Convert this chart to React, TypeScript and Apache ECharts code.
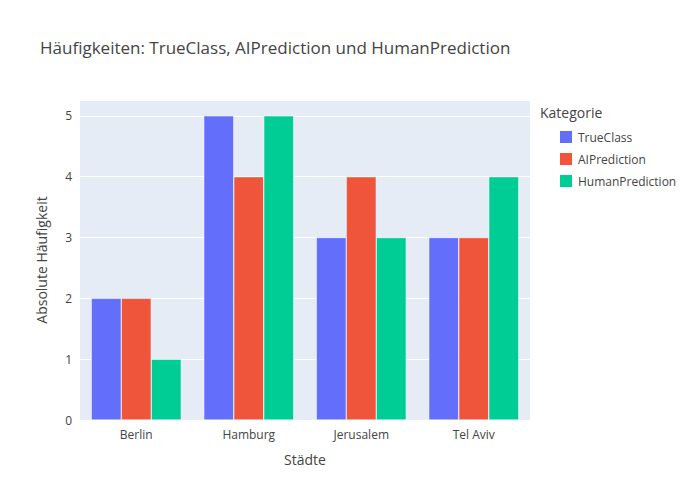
import { useEffect, useRef } from 'react';
import * as echarts from 'echarts';

const cities = ['Berlin', 'Hamburg', 'Jerusalem', 'Tel Aviv'];
const trueClass = [2, 5, 3, 3];
const aiPrediction = [2, 4, 4, 3];
const humanPrediction = [1, 5, 3, 4];

const font = '"Open Sans", sans-serif';

export default function App() {
  const chartRef = useRef<HTMLDivElement>(null);

  useEffect(() => {
    if (!chartRef.current) return;
    const chart = echarts.init(chartRef.current, null, { renderer: 'svg' });

    const bar = (name: string, data: number[], color: string) => ({
      name,
      type: 'bar',
      data,
      barGap: '0%',
      barCategoryGap: '20%',
      itemStyle: { color, borderColor: '#fff', borderWidth: 0.5 },
    });

    chart.setOption({
      animation: false,
      textStyle: { fontFamily: font, color: '#444' },
      title: {
        text: 'Häufigkeiten: TrueClass, AIPrediction und HumanPrediction',
        left: 35,
        top: 34,
        textStyle: { fontFamily: font, fontSize: 17, fontWeight: 'normal', color: '#444' },
      },
      graphic: [
        {
          type: 'text',
          left: 540,
          top: 105,
          style: { text: 'Kategorie', fontFamily: font, fontSize: 14, fill: '#444' },
        },
      ],
      legend: {
        orient: 'vertical',
        left: 553,
        top: 124,
        itemWidth: 14,
        itemHeight: 14,
        itemGap: 6,
        icon: 'rect',
        textStyle: { fontFamily: font, fontSize: 12, color: '#444' },
      },
      grid: {
        left: 80,
        right: 170,
        top: 100,
        bottom: 80,
        show: true,
        backgroundColor: '#E5ECF6',
        borderWidth: 0,
      },
      xAxis: {
        type: 'category',
        data: cities,
        name: 'Städte',
        nameLocation: 'middle',
        nameGap: 32,
        nameTextStyle: { fontFamily: font, fontSize: 14, color: '#444' },
        axisLine: { show: false },
        axisTick: { show: false },
        axisLabel: { fontFamily: font, fontSize: 12, color: '#444' },
      },
      yAxis: {
        type: 'value',
        min: 0,
        max: 5.26,
        interval: 1,
        name: 'Absolute Häufigkeit',
        nameLocation: 'middle',
        nameGap: 32,
        nameTextStyle: { fontFamily: font, fontSize: 14, color: '#444' },
        axisLabel: { fontFamily: font, fontSize: 12, color: '#444', showMaxLabel: false },
        splitLine: { lineStyle: { color: '#fff', width: 1 } },
      },
      series: [
        bar('TrueClass', trueClass, '#636efa'),
        bar('AIPrediction', aiPrediction, '#EF553B'),
        bar('HumanPrediction', humanPrediction, '#00cc96'),
      ],
    });

    return () => chart.dispose();
  }, []);

  return <div ref={chartRef} style={{ width: 700, height: 500, margin: -8 }} />;
}
